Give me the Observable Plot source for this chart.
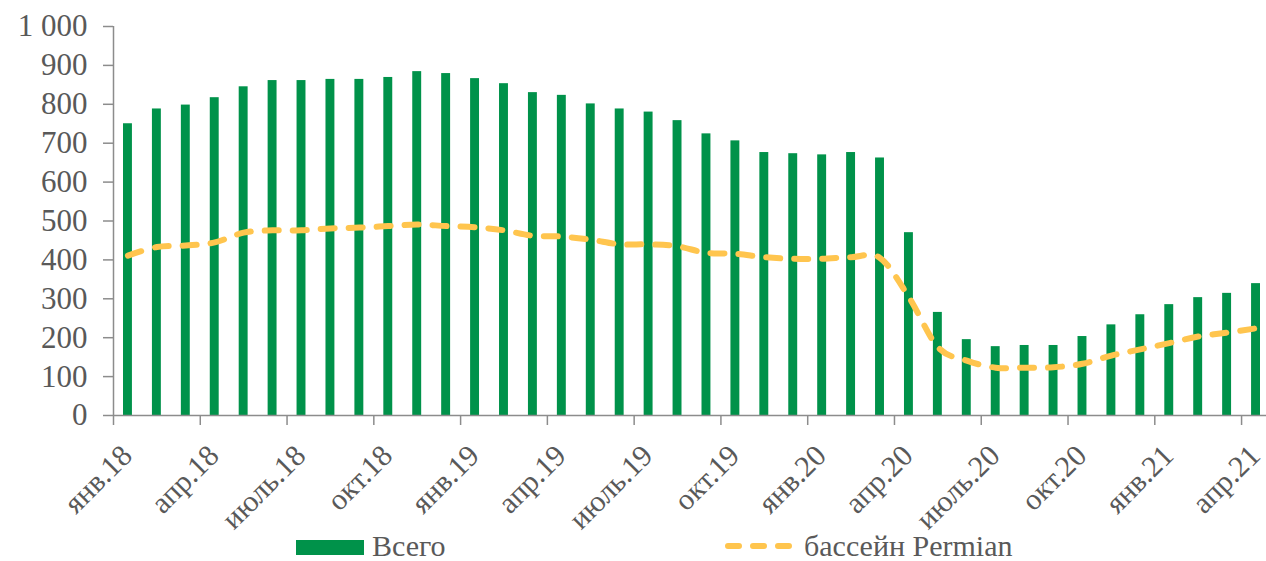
<!DOCTYPE html>
<html><head><meta charset="utf-8">
<script src="https://cdn.jsdelivr.net/npm/d3@7"></script>
<script src="https://cdn.jsdelivr.net/npm/@observablehq/plot@0.6"></script>
<style>
body{margin:0;background:#fff;}
#wrap{position:relative;width:1266px;height:561px;overflow:hidden;font-family:"Liberation Serif",serif;}
.lg{position:absolute;color:#595959;font-size:30px;line-height:28px;height:28px;white-space:nowrap;}
</style></head><body><div id="wrap"></div>
<script>
const months = [
 "янв.18","фев.18","мар.18","апр.18","май.18","июнь.18","июль.18","авг.18","сен.18","окт.18","ноя.18","дек.18",
 "янв.19","фев.19","мар.19","апр.19","май.19","июнь.19","июль.19","авг.19","сен.19","окт.19","ноя.19","дек.19",
 "янв.20","фев.20","мар.20","апр.20","май.20","июнь.20","июль.20","авг.20","сен.20","окт.20","ноя.20","дек.20",
 "янв.21","фев.21","мар.21","апр.21"];
const total = [
 750,788,798,817,845,861,861,864,864,869,884,879,
 866,853,830,823,801,788,780,758,724,706,676,673,
 670,676,662,470,265,195,177,180,180,203,233,259,
 285,303,314,339];
const permian = [
 411,433,437,445,470,476,476,481,483,487,491,487,
 484,476,462,460,452,440,440,435,418,416,407,403,
 403,407,405,304,176,141,123,123,124,133,154,170,
 186,203,213,224];
const yTicks = [0,100,200,300,400,500,600,700,800,900,1000];
const seriesNames = ["Всего","бассейн Permian"];
const colors = ["#00924A","#FFC54E"];

const data = months.map((m,i)=>({i, month:m, total: total[i], permian: permian[i]}));
const labelRows = data.filter(d => d.i % 3 === 0);
const tickPos = labelRows.map(d => d.i);
const fmt = d => d >= 1000 ? d3.format(",")(d).replace(",", " ") : String(d);
const axisColor = "#8c8c8c";

const chart = Plot.plot({
  width: 1266, height: 561,
  marginLeft: 113, marginRight: 0, marginTop: 26, marginBottom: 146,
  style: {fontFamily: "'Liberation Serif', serif", fontSize: "30px", color: "#595959", background: "#fff", overflow: "visible"},
  x: {domain: [0, 40], range: [113, 1270], axis: null},
  y: {domain: [0, 1000], range: [415, 26], axis: null},
  marks: [
    Plot.rectY(data, {x1: "i", x2: d => d.i + 1, y: "total", fill: colors[0], insetLeft: 10, insetRight: 10}),
    Plot.line(data, {x: d => d.i + 0.5, y: "permian", curve: "cardinal", stroke: colors[1], strokeWidth: 6, strokeDasharray: "14,14", strokeLinecap: "round"}),
    Plot.axisY({ticks: yTicks, tickSize: 10, tickPadding: 16, tickFormat: fmt, stroke: axisColor, strokeWidth: 1.5, fill: "#595959", fontSize: 31, label: null}),
    Plot.axisX({ticks: tickPos, tickSize: 10, tickFormat: () => "", stroke: axisColor, strokeWidth: 1.5, label: null}),
    Plot.ruleX([0], {stroke: axisColor, strokeWidth: 1.5}),
    Plot.ruleY([0], {stroke: axisColor, strokeWidth: 1.5}),
    Plot.text(labelRows, {x: d => d.i + 0.5, y: () => 0, text: "month", rotate: -45, textAnchor: "end", lineAnchor: "middle", dx: -1, dy: 35, fill: "#595959", fontSize: 30})
  ]
});
const wrap = document.getElementById("wrap");
wrap.appendChild(chart);

// legend
const sw = document.createElement("div");
sw.style.cssText = `position:absolute;left:296px;top:540px;width:68px;height:15px;background:${colors[0]};`;
wrap.appendChild(sw);
const t1 = document.createElement("div");
t1.className = "lg"; t1.style.left = "372px"; t1.style.top = "532px"; t1.textContent = seriesNames[0];
wrap.appendChild(t1);
const ns = "http://www.w3.org/2000/svg";
const ls = document.createElementNS(ns, "svg");
ls.setAttribute("width", "80"); ls.setAttribute("height", "20");
ls.style.cssText = "position:absolute;left:718px;top:536px;";
const ln = document.createElementNS(ns, "line");
ln.setAttribute("x1", "10"); ln.setAttribute("x2", "71"); ln.setAttribute("y1", "10"); ln.setAttribute("y2", "10");
ln.setAttribute("stroke", colors[1]); ln.setAttribute("stroke-width", "6");
ln.setAttribute("stroke-dasharray", "11,14"); ln.setAttribute("stroke-linecap", "round");
ls.appendChild(ln); wrap.appendChild(ls);
const t2 = document.createElement("div");
t2.className = "lg"; t2.style.left = "804px"; t2.style.top = "532px"; t2.textContent = seriesNames[1];
wrap.appendChild(t2);
</script>
</body></html>
